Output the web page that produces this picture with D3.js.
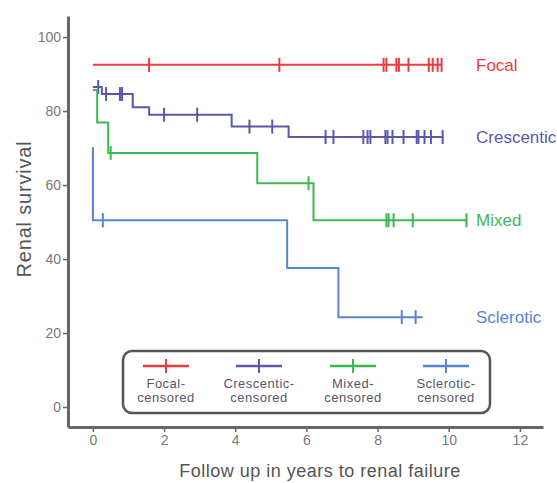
<!DOCTYPE html>
<html>
<head>
<meta charset="utf-8">
<script src="https://cdn.jsdelivr.net/npm/d3@7"></script>
<style>
  body { margin: 0; background: #fff; }
  text { font-family: "Liberation Sans", Arial, sans-serif; }
</style>
</head>
<body>
<div id="vis"></div>
<script>
// groups and their colours
const groups = ['Focal', 'Crescentic', 'Mixed', 'Sclerotic'];
const colors = ['#ec3a40', '#5b58ab', '#3cb94e', '#5686d3'];

// survival at time 0, then [time, survival] at each event step
const startValues = [92.5, 86.5, 85.7, 70.3];
const stepTimes = [
  [],
  [0.25, 1.12, 1.58, 3.9, 5.5],
  [0.12, 0.43, 4.62, 6.2],
  [0.0, 5.46, 6.9]
];
const stepValues = [
  [],
  [84.6, 81, 79, 75.8, 73],
  [76.9, 68.7, 60.5, 50.5],
  [50.5, 37.6, 24.3]
];
const endTimes = [9.8, 9.85, 10.5, 9.27];

// censored observations (years)
const censorTimes = [
  [1.58, 5.24, 8.17, 8.25, 8.53, 8.6, 8.87, 9.44, 9.55, 9.69, 9.8],
  [0.15, 0.37, 0.76, 0.82, 2.0, 2.93, 4.4, 5.04, 6.54, 6.76, 7.6, 7.72, 7.8,
   8.22, 8.28, 8.42, 8.73, 9.1, 9.15, 9.32, 9.5, 9.83],
  [0.5, 6.06, 8.25, 8.31, 8.45, 8.99, 10.5],
  [0.28, 8.68, 9.07]
];

const xTicks = [0, 2, 4, 6, 8, 10, 12];
const yTicks = [0, 20, 40, 60, 80, 100];

const width = 557, height = 483;

const svg = d3.select('#vis')
  .append('svg')
  .attr('width', width)
  .attr('height', height);

// scales (axis lines run a little past the tick range)
const xScale = d3.scaleLinear().domain([-0.7, 12.65]).range([68, 543]);
const yScale = d3.scaleLinear().domain([-5.4, 105.7]).range([427, 16]);

// y axis
const yAxis = d3.axisLeft(yScale).tickValues(yTicks).tickSize(5).tickSizeOuter(0).tickPadding(2);
const gy = svg.append('g').attr('transform', 'translate(68,0)').call(yAxis);
gy.select('.domain').attr('stroke', '#666').attr('stroke-width', 3);
gy.selectAll('.tick line').attr('stroke', '#666').attr('stroke-width', 1.5);
gy.selectAll('.tick text').attr('fill', '#777').style('font-size', '14px');

// x axis
const xAxis = d3.axisBottom(xScale).tickValues(xTicks).tickSize(5).tickSizeOuter(0).tickPadding(3);
const gx = svg.append('g').attr('transform', 'translate(0,427)').call(xAxis);
gx.select('.domain').attr('stroke', '#666').attr('stroke-width', 3);
gx.selectAll('.tick line').attr('stroke', '#666').attr('stroke-width', 1.5);
gx.selectAll('.tick text').attr('fill', '#777').style('font-size', '14px');

// axis labels
svg.append('text')
  .attr('transform', 'rotate(-90)')
  .attr('x', -209)
  .attr('y', 31)
  .attr('text-anchor', 'middle')
  .attr('fill', '#555')
  .style('font-size', '20px')
  .style('letter-spacing', '0.8px')
  .text('Renal survival');

svg.append('text')
  .attr('x', 320)
  .attr('y', 477)
  .attr('text-anchor', 'middle')
  .attr('fill', '#555')
  .style('font-size', '18px')
  .style('letter-spacing', '0.5px')
  .text('Follow up in years to renal failure');

// step curves
const line = d3.line()
  .x(d => xScale(d[0]))
  .y(d => yScale(d[1]))
  .curve(d3.curveStepAfter);

groups.forEach((g, i) => {
  const pts = [[0, startValues[i]]];
  stepTimes[i].forEach((t, j) => pts.push([t, stepValues[i][j]]));
  const last = pts[pts.length - 1][1];
  pts.push([endTimes[i], last]);

  svg.append('path')
    .datum(pts)
    .attr('d', line)
    .attr('fill', 'none')
    .attr('stroke', colors[i])
    .attr('stroke-width', 2);

  // survival value at a given time, for placing censor marks
  function survAt(t) {
    let v = startValues[i];
    stepTimes[i].forEach((s, j) => { if (s <= t) v = stepValues[i][j]; });
    return v;
  }

  svg.selectAll('.censor-' + i)
    .data(censorTimes[i])
    .join('line')
    .attr('class', 'censor-' + i)
    .attr('x1', d => xScale(d))
    .attr('x2', d => xScale(d))
    .attr('y1', d => yScale(survAt(d)) - 7)
    .attr('y2', d => yScale(survAt(d)) + 7)
    .attr('stroke', colors[i])
    .attr('stroke-width', 2);

  // group label to the right
  svg.append('text')
    .attr('x', 476)
    .attr('y', yScale(last))
    .attr('dy', '0.35em')
    .attr('fill', colors[i])
    .style('font-size', '17px')
    .text(g);
});

// legend
const legend = svg.append('g');
legend.append('rect')
  .attr('x', 123).attr('y', 351)
  .attr('width', 367).attr('height', 62)
  .attr('rx', 9)
  .attr('fill', 'none')
  .attr('stroke', '#555')
  .attr('stroke-width', 2.5);

const legendX = [166, 259, 353, 446];
groups.forEach((g, i) => {
  const cx = legendX[i];
  legend.append('line')
    .attr('x1', cx - 23).attr('x2', cx + 23)
    .attr('y1', 366).attr('y2', 366)
    .attr('stroke', colors[i]).attr('stroke-width', 2.5);
  legend.append('line')
    .attr('x1', cx).attr('x2', cx)
    .attr('y1', 359).attr('y2', 373)
    .attr('stroke', colors[i]).attr('stroke-width', 2);
  const t = legend.append('text')
    .attr('x', cx)
    .attr('text-anchor', 'middle')
    .attr('fill', '#5a5466')
    .style('font-size', '13px')
    .style('letter-spacing', '0.5px');
  t.append('tspan').attr('x', cx).attr('y', 388).text(g + '-');
  t.append('tspan').attr('x', cx).attr('y', 402).text('censored');
});
</script>
</body>
</html>
